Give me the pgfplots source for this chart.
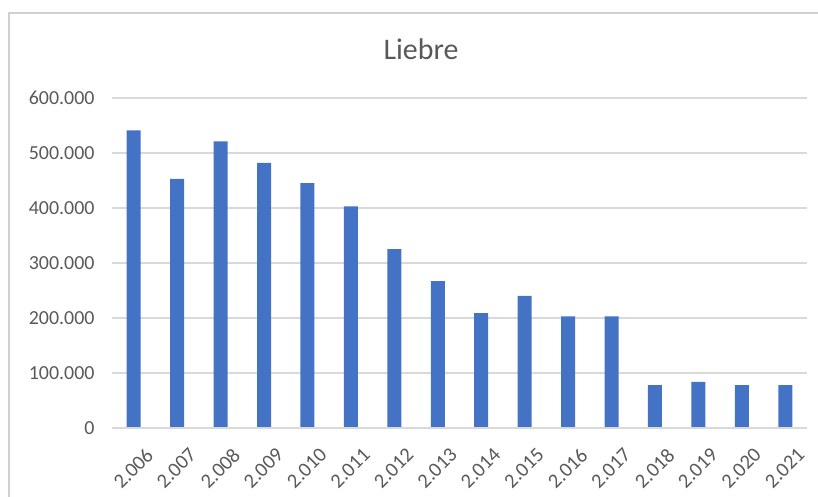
\documentclass[border=0pt]{standalone}
\usepackage{pgfplots}
\pgfplotsset{compat=1.18}
\usepackage{fontspec}
\setmainfont{Carlito}
\definecolor{barblue}{HTML}{4472C4}
\definecolor{gridgray}{HTML}{D9D9D9}
\definecolor{textgray}{HTML}{595959}
\definecolor{framegray}{HTML}{D0D0D0}
\begin{document}
\begin{tikzpicture}[x=1bp,y=1bp]
\useasboundingbox (0,0) rectangle (818,497);
\draw[framegray, line width=1.2bp] (9,0) -- (9,484) -- (818,484);
\node[text=textgray, font=\fontsize{30}{34}\selectfont, anchor=base] at (421,437) {Liebre};
\begin{axis}[
  at={(112bp,69bp)}, anchor=south west,
  scale only axis, width=695bp, height=330bp,
  xmin=-0.5, xmax=15.5, ymin=0, ymax=600000,
  axis line style={draw=none},
  axis x line*=bottom,
  ybar, bar width=14bp,
  xtick={0,...,15},
  xticklabels={2.006,2.007,2.008,2.009,2.010,2.011,2.012,2.013,2.014,2.015,2.016,2.017,2.018,2.019,2.020,2.021},
  ytick={0,100000,200000,300000,400000,500000,600000},
  yticklabels={0,100.000,200.000,300.000,400.000,500.000,600.000},
  scaled y ticks=false,
  major tick length=0pt,
  ymajorgrids, grid style={gridgray, line width=1.2bp},
  tick label style={text=textgray, font=\fontsize{20}{22}\selectfont},
  yticklabel style={anchor=east, xshift=-14bp},
  xticklabel style={rotate=45, anchor=north east, inner sep=0pt, xshift=-5.4bp, yshift=-21bp, font=\fontsize{20.5}{22}\selectfont},
  /pgf/number format/assume math mode=true,
  clip=false,
]
\addplot[draw=none, fill=barblue, bar shift=0pt] coordinates {
(0,541000) (1,453000) (2,521000) (3,482000) (4,445000) (5,403000)
(6,325000) (7,267000) (8,209000) (9,240000) (10,203000) (11,203000)
(12,78000) (13,84000) (14,78000) (15,78000)
};
\draw[gridgray, line width=1.2bp] (axis cs:-0.5,0) -- (axis cs:15.5,0);
\end{axis}
\end{tikzpicture}
\end{document}
